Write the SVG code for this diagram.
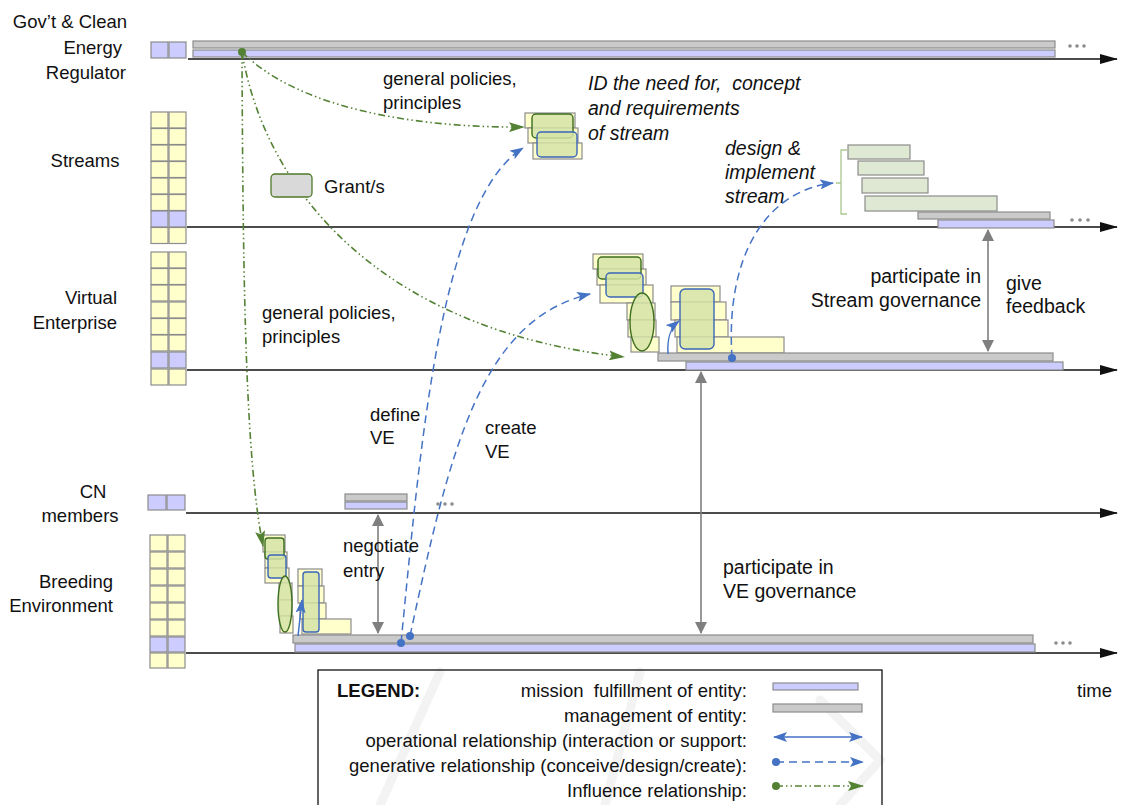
<svg xmlns="http://www.w3.org/2000/svg" width="1122" height="805" viewBox="0 0 1122 805">
  <defs>
    <style>
      text { font-family: "Liberation Sans", Arial, sans-serif; font-size: 18.5px; fill: #111; white-space: pre; }
      .it { font-style: italic; font-size: 19.5px; }
      .big { font-size: 19.5px; }
      .lane { font-size: 18.5px; }
      .lg { font-size: 18.5px; }
      .cy { fill: #ffffcc; stroke: #8c8c8c; stroke-width: 1.2; }
      .cl { fill: #ccccff; stroke: #8c8c8c; stroke-width: 1.2; }
      .mgmt { fill: #cacaca; stroke: #8c8c8c; stroke-width: 1.2; }
      .miss { fill: #ccccff; stroke: #8c8c8c; stroke-width: 1.2; }
      .ybox { fill: #ffffcc; stroke: #8c8c8c; stroke-width: 1.2; }
      .gbox { fill: #dfe8d3; stroke: #8c8c8c; stroke-width: 1.2; }
      .grn { fill: #d5e3a6; fill-opacity: 0.85; stroke: #3c6e1e; stroke-width: 1.4; }
      .blu { fill: #d5e3a6; fill-opacity: 0.85; stroke: #3a66b8; stroke-width: 1.4; }
      .tl { stroke: #111; stroke-width: 1.6; fill: none; }
      .gen { stroke: #4472c4; stroke-width: 1.5; fill: none; stroke-dasharray: 8 5; }
      .op { stroke: #4472c4; stroke-width: 1.5; fill: none; }
      .inf { stroke: #548235; stroke-width: 1.6; fill: none; stroke-dasharray: 7 3 1.5 3 1.5 3; }
      .gov { stroke: #7f7f7f; stroke-width: 1.6; fill: none; }
      .dots { fill: #8c8c8c; }
    </style>
    <marker id="ahBlack" markerWidth="18" markerHeight="10" refX="17" refY="5" orient="auto" markerUnits="userSpaceOnUse">
      <path d="M0,0 L18,5 L0,10 z" fill="#111"/>
    </marker>
    <marker id="ahBlue" markerWidth="14" markerHeight="10" refX="13" refY="5" orient="auto-start-reverse" markerUnits="userSpaceOnUse">
      <path d="M0,0 L14,5 L0,10 L3,5 z" fill="#4472c4"/>
    </marker>
    <marker id="ahGreen" markerWidth="16" markerHeight="10" refX="15" refY="5" orient="auto" markerUnits="userSpaceOnUse">
      <path d="M0,0 L16,5 L0,10 L3,5 z" fill="#548235"/>
    </marker>
    <marker id="ahGray" markerWidth="12" markerHeight="14" refX="11" refY="7" orient="auto-start-reverse" markerUnits="userSpaceOnUse">
      <path d="M0,1 L12,7 L0,13 z" fill="#7f7f7f"/>
    </marker>
    <marker id="dotBlue" markerWidth="10" markerHeight="10" refX="5" refY="5" markerUnits="userSpaceOnUse">
      <circle cx="5" cy="5" r="4" fill="#4472c4"/>
    </marker>
    <marker id="dotGreen" markerWidth="10" markerHeight="10" refX="5" refY="5" markerUnits="userSpaceOnUse">
      <circle cx="5" cy="5" r="4" fill="#548235"/>
    </marker>
  </defs>

  <rect x="0" y="0" width="1122" height="805" fill="#ffffff"/>

  <!-- faint publisher watermark strokes behind the legend -->
  <g id="watermark" stroke="#f3f3f3" stroke-width="9" fill="none" stroke-linecap="round">
    <path d="M380,805 L440,672"/>
    <path d="M640,672 L605,805"/>
    <path d="M820,700 L880,760 L840,805"/>
  </g>

  <!-- lane: government & regulator -->
  <g id="lane-gov">
    <text class="lane" x="127" y="28" text-anchor="end">Gov’t &amp; Clean</text>
    <text class="lane" x="122" y="54" text-anchor="end">Energy</text>
    <text class="lane" x="126" y="79" text-anchor="end">Regulator</text>
    <rect class="cl" x="151" y="42" width="17" height="16"/>
    <rect class="cl" x="169" y="42" width="17" height="16"/>
    <rect class="mgmt" x="193" y="41" width="862" height="7"/>
    <rect class="miss" x="193" y="50" width="862" height="7"/>
    <line class="tl" x1="188" y1="59" x2="1117" y2="59" marker-end="url(#ahBlack)"/>
    <circle class="dots" cx="1070" cy="46" r="1.8"/><circle class="dots" cx="1077" cy="46" r="1.8"/><circle class="dots" cx="1084" cy="46" r="1.8"/>
  </g>

  <!-- lane: streams -->
  <g id="lane-streams">
    <text class="lane" x="85" y="167" text-anchor="middle">Streams</text>
    <g id="streams-cells">
      <rect class="cy" x="151" y="112" width="17" height="16"/><rect class="cy" x="169" y="112" width="17" height="16"/>
      <rect class="cy" x="151" y="128.5" width="17" height="16"/><rect class="cy" x="169" y="128.5" width="17" height="16"/>
      <rect class="cy" x="151" y="145" width="17" height="16"/><rect class="cy" x="169" y="145" width="17" height="16"/>
      <rect class="cy" x="151" y="161.5" width="17" height="16"/><rect class="cy" x="169" y="161.5" width="17" height="16"/>
      <rect class="cy" x="151" y="178" width="17" height="16"/><rect class="cy" x="169" y="178" width="17" height="16"/>
      <rect class="cy" x="151" y="194.5" width="17" height="16"/><rect class="cy" x="169" y="194.5" width="17" height="16"/>
      <rect class="cl" x="151" y="211" width="17" height="16"/><rect class="cl" x="169" y="211" width="17" height="16"/>
      <rect class="cy" x="151" y="227.5" width="17" height="16"/><rect class="cy" x="169" y="227.5" width="17" height="16"/>
    </g>
    <line class="tl" x1="187" y1="227" x2="1117" y2="227" marker-end="url(#ahBlack)"/>
    <!-- concept of the stream -->
    <rect class="ybox" x="525" y="113" width="50" height="15"/>
    <rect class="ybox" x="528" y="128" width="50" height="15"/>
    <rect class="ybox" x="533" y="143" width="49" height="16"/>
    <rect class="grn" x="532" y="114" width="41" height="24" rx="4"/>
    <rect class="blu" x="537" y="132" width="40" height="25" rx="4"/>
    <!-- designed and implemented stream -->
    <rect class="gbox" x="848" y="145" width="62" height="14"/>
    <rect class="gbox" x="858" y="161" width="66" height="14"/>
    <rect class="gbox" x="862" y="178" width="66" height="15"/>
    <rect class="gbox" x="865" y="196" width="132" height="15"/>
    <path d="M847,150 L841,150 L841,214 L847,214 M841,183 L836,183" fill="none" stroke="#a9c98e" stroke-width="1.3"/>
    <rect class="mgmt" x="918" y="212" width="132" height="7"/>
    <rect class="miss" x="938" y="220" width="116" height="8"/>
    <circle class="dots" cx="1072" cy="220" r="1.8"/><circle class="dots" cx="1080" cy="220" r="1.8"/><circle class="dots" cx="1088" cy="220" r="1.8"/>
  </g>

  <!-- lane: virtual enterprise -->
  <g id="lane-ve">
    <text class="lane" x="117" y="304" text-anchor="end">Virtual</text>
    <text class="lane" x="117" y="329" text-anchor="end">Enterprise</text>
    <g id="ve-cells">
      <rect class="cy" x="151" y="252" width="17" height="16"/><rect class="cy" x="169" y="252" width="17" height="16"/>
      <rect class="cy" x="151" y="268.5" width="17" height="16"/><rect class="cy" x="169" y="268.5" width="17" height="16"/>
      <rect class="cy" x="151" y="285" width="17" height="16"/><rect class="cy" x="169" y="285" width="17" height="16"/>
      <rect class="cy" x="151" y="302" width="17" height="16"/><rect class="cy" x="169" y="302" width="17" height="16"/>
      <rect class="cy" x="151" y="318.5" width="17" height="16"/><rect class="cy" x="169" y="318.5" width="17" height="16"/>
      <rect class="cy" x="151" y="335" width="17" height="16"/><rect class="cy" x="169" y="335" width="17" height="16"/>
      <rect class="cl" x="151" y="352" width="17" height="16"/><rect class="cl" x="169" y="352" width="17" height="16"/>
      <rect class="cy" x="151" y="369" width="17" height="16"/><rect class="cy" x="169" y="369" width="17" height="16"/>
    </g>
    <line class="tl" x1="187" y1="370" x2="1117" y2="370" marker-end="url(#ahBlack)"/>
    <!-- VE creation steps -->
    <rect class="ybox" x="593" y="254" width="50" height="15"/>
    <rect class="ybox" x="597" y="269" width="49" height="16"/>
    <rect class="ybox" x="600" y="285" width="53" height="18"/>
    <rect class="ybox" x="627" y="303" width="28" height="17"/>
    <rect class="ybox" x="628" y="320" width="28" height="17"/>
    <rect class="ybox" x="631" y="337" width="28" height="15"/>
    <rect class="grn" x="598" y="257" width="43" height="22" rx="4"/>
    <rect class="blu" x="606" y="273" width="37" height="24" rx="4"/>
    <ellipse class="grn" cx="642" cy="322" rx="12" ry="29"/>
    <rect class="ybox" x="671" y="286" width="49" height="16"/>
    <rect class="ybox" x="671" y="302" width="55" height="18"/>
    <rect class="ybox" x="675" y="320" width="53" height="17"/>
    <rect class="ybox" x="677" y="337" width="107" height="16"/>
    <rect class="blu" x="680" y="289" width="34" height="60" rx="5"/>
    <rect class="mgmt" x="658" y="353" width="395" height="8"/>
    <rect class="miss" x="686" y="362" width="377" height="8"/>
  </g>

  <!-- lane: CN members -->
  <g id="lane-cn">
    <text class="lane" x="93" y="498" text-anchor="middle">CN</text>
    <text class="lane" x="80" y="522" text-anchor="middle">members</text>
    <rect class="cl" x="148" y="495" width="18" height="15"/>
    <rect class="cl" x="167" y="495" width="18" height="15"/>
    <line class="tl" x1="186" y1="513" x2="1117" y2="513" marker-end="url(#ahBlack)"/>
    <rect class="mgmt" x="345" y="494" width="62" height="7"/>
    <rect class="miss" x="345" y="502" width="62" height="7"/>
    <circle class="dots" cx="438" cy="504" r="1.8"/><circle class="dots" cx="445" cy="504" r="1.8"/><circle class="dots" cx="452" cy="504" r="1.8"/>
  </g>

  <!-- lane: breeding environment -->
  <g id="lane-be">
    <text class="lane" x="113" y="588" text-anchor="end">Breeding</text>
    <text class="lane" x="113" y="612" text-anchor="end">Environment</text>
    <g id="be-cells">
      <rect class="cy" x="150" y="535" width="17" height="16"/><rect class="cy" x="168" y="535" width="17" height="16"/>
      <rect class="cy" x="150" y="552" width="17" height="16"/><rect class="cy" x="168" y="552" width="17" height="16"/>
      <rect class="cy" x="150" y="569" width="17" height="16"/><rect class="cy" x="168" y="569" width="17" height="16"/>
      <rect class="cy" x="150" y="586" width="17" height="16"/><rect class="cy" x="168" y="586" width="17" height="16"/>
      <rect class="cy" x="150" y="603" width="17" height="16"/><rect class="cy" x="168" y="603" width="17" height="16"/>
      <rect class="cy" x="150" y="620" width="17" height="16"/><rect class="cy" x="168" y="620" width="17" height="16"/>
      <rect class="cl" x="150" y="637" width="17" height="15"/><rect class="cl" x="168" y="637" width="17" height="15"/>
      <rect class="cy" x="150" y="653" width="17" height="15"/><rect class="cy" x="168" y="653" width="17" height="15"/>
    </g>
    <line class="tl" x1="186" y1="653" x2="1117" y2="653" marker-end="url(#ahBlack)"/>
    <!-- BE creation steps -->
    <rect class="ybox" x="263" y="535" width="22" height="17"/>
    <rect class="ybox" x="265" y="552" width="22" height="16"/>
    <rect class="ybox" x="265" y="568" width="24" height="15"/>
    <rect class="ybox" x="279" y="583" width="13" height="17"/>
    <rect class="ybox" x="279" y="600" width="13" height="16"/>
    <rect class="ybox" x="280" y="616" width="13" height="17"/>
    <rect class="grn" x="265" y="538" width="19" height="21" rx="3"/>
    <rect class="blu" x="268" y="555" width="18" height="23" rx="3"/>
    <ellipse class="grn" cx="285" cy="604" rx="7" ry="28"/>
    <rect class="ybox" x="298" y="569" width="24" height="17"/>
    <rect class="ybox" x="298" y="586" width="26" height="17"/>
    <rect class="ybox" x="300" y="603" width="26" height="16"/>
    <rect class="ybox" x="302" y="619" width="49" height="15"/>
    <rect class="blu" x="303" y="572" width="16" height="60" rx="3"/>
    <rect class="mgmt" x="293" y="635" width="740" height="8"/>
    <rect class="miss" x="295" y="644" width="740" height="8"/>
    <circle class="dots" cx="1056" cy="643" r="1.8"/><circle class="dots" cx="1063" cy="643" r="1.8"/><circle class="dots" cx="1070" cy="643" r="1.8"/>
    <text x="1077" y="697" font-size="20">time</text>
  </g>

  <!-- connectors -->
  <g id="connectors">
    <!-- influence -->
    <path class="inf" d="M242,52 C300,110 420,128 524,127" marker-start="url(#dotGreen)" marker-end="url(#ahGreen)"/>
    <path class="inf" d="M242,52 C265,190 380,330 624,357" marker-end="url(#ahGreen)"/>
    <path class="inf" d="M242,52 C243,300 246,460 263,546" marker-end="url(#ahGreen)"/>
    <!-- generative -->
    <path class="gen" d="M401,643 C420,450 440,200 523,148" marker-start="url(#dotBlue)" marker-end="url(#ahBlue)"/>
    <path class="gen" d="M410,636 C450,450 480,320 590,294" marker-start="url(#dotBlue)" marker-end="url(#ahBlue)"/>
    <path class="gen" d="M732,358 C725,250 770,190 833,183" marker-start="url(#dotBlue)" marker-end="url(#ahBlue)"/>
    <!-- operational -->
    <path class="op" d="M668,354 C667,338 670,328 679,321" marker-end="url(#ahBlue)"/>
    <path class="op" d="M298,636 L302,600" marker-end="url(#ahBlue)"/>
    <!-- governance / negotiation -->
    <line class="gov" x1="378" y1="515" x2="378" y2="633" marker-start="url(#ahGray)" marker-end="url(#ahGray)"/>
    <line class="gov" x1="701" y1="372" x2="701" y2="633" marker-start="url(#ahGray)" marker-end="url(#ahGray)"/>
    <line class="gov" x1="988" y1="230" x2="988" y2="351" marker-start="url(#ahGray)" marker-end="url(#ahGray)"/>
  </g>

  <!-- grant node -->
  <g id="grant">
    <rect x="271" y="174" width="41" height="23" rx="4" fill="#d9d9d9" stroke="#4f7a28" stroke-width="1.3"/>
    <text x="324" y="193">Grant/s</text>
  </g>

  <!-- connector labels -->
  <g id="labels">
    <text x="383" y="85">general policies,</text>
    <text x="383" y="109">principles</text>
    <text class="it" x="588" y="90">ID the need for,  concept</text>
    <text class="it" x="588" y="115">and requirements</text>
    <text class="it" x="588" y="140">of stream</text>
    <text class="it" x="725" y="155">design &amp;</text>
    <text class="it" x="725" y="179">implement</text>
    <text class="it" x="725" y="203">stream</text>
    <text x="262" y="319">general policies,</text>
    <text x="262" y="343">principles</text>
    <text class="big" x="981" y="283" text-anchor="end">participate in</text>
    <text class="big" x="981" y="307" text-anchor="end">Stream governance</text>
    <text class="big" x="1006" y="290">give</text>
    <text class="big" x="1006" y="313">feedback</text>
    <text x="370" y="421">define</text>
    <text x="370" y="444">VE</text>
    <text x="485" y="434">create</text>
    <text x="485" y="458">VE</text>
    <text x="343" y="552">negotiate</text>
    <text x="343" y="577">entry</text>
    <text class="big" x="723" y="574">participate in</text>
    <text class="big" x="723" y="598">VE governance</text>
  </g>

  <!-- legend -->
  <g id="legend">
    <rect x="318" y="670" width="564" height="140" fill="none" stroke="#111" stroke-width="1.3"/>
    <text x="337" y="697" font-weight="bold" font-size="17">LEGEND:</text>
    <text class="lg" x="747" y="697" text-anchor="end">mission  fulfillment of entity:</text>
    <text class="lg" x="747" y="722" text-anchor="end">management of entity:</text>
    <text class="lg" x="747" y="747" text-anchor="end">operational relationship (interaction or support:</text>
    <text class="lg" x="747" y="772" text-anchor="end">generative relationship (conceive/design/create):</text>
    <text class="lg" x="747" y="797" text-anchor="end">Influence relationship:</text>
    <rect class="miss" x="773" y="683" width="85" height="7"/>
    <rect class="mgmt" x="773" y="704" width="89" height="8"/>
    <line class="op" x1="774" y1="737" x2="862" y2="737" marker-start="url(#ahBlue)" marker-end="url(#ahBlue)"/>
    <line class="gen" x1="776" y1="762" x2="863" y2="762" marker-start="url(#dotBlue)" marker-end="url(#ahBlue)"/>
    <line class="inf" x1="776" y1="786" x2="863" y2="786" marker-start="url(#dotGreen)" marker-end="url(#ahGreen)"/>
  </g>
</svg>
